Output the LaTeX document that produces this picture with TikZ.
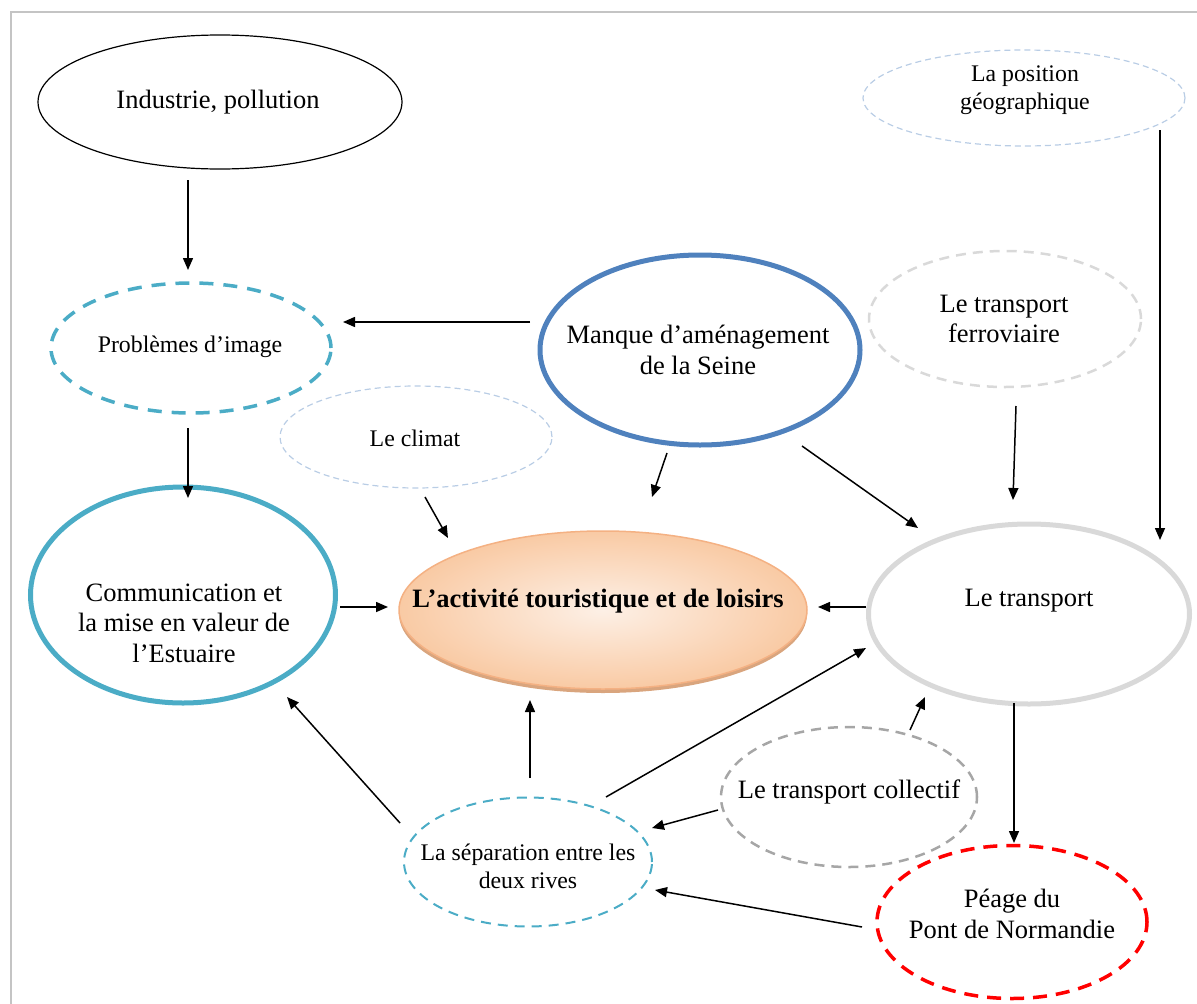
\documentclass[tikz,border=0pt]{standalone}
\usepackage{fontspec}
\setmainfont{Liberation Serif}
\usetikzlibrary{arrows.meta,calc,shapes.geometric,shadows}
\definecolor{framecol}{HTML}{C4C4C4}
\definecolor{teal}{HTML}{4BACC6}
\definecolor{sblue}{HTML}{4F81BD}
\definecolor{lgray}{HTML}{D9D9D9}
\definecolor{mgray}{HTML}{A6A6A6}
\definecolor{lblue}{HTML}{B9CDE5}
\definecolor{cborder}{HTML}{F4B183}
\definecolor{cinner}{HTML}{FDF0E6}
\definecolor{couter}{HTML}{F9CAA4}
\definecolor{cshadow}{HTML}{D9A57E}
\begin{document}
\begin{tikzpicture}[x=1pt,y=-1pt,
  ell/.style={ellipse, draw, inner sep=0pt},
  txt/.style={align=center, inner sep=0pt, font=\fontsize{26.5}{30.5}\selectfont},
  stxt/.style={align=center, inner sep=0pt, font=\fontsize{23.8}{27.8}\selectfont},
  arr/.style={-{Triangle[length=12pt,width=10pt]}, line width=1.5pt, black},
  thindash/.style={lblue, line width=1.2pt, dash pattern=on 6pt off 4pt}]
\useasboundingbox (0,0) rectangle (1197,1004);
\draw[framecol, line width=2pt] (11,1004) -- (11,12) -- (1197,12);

% ellipses
\node[ell, line width=1.2pt, minimum width=364pt, minimum height=134pt] (ind) at (220,102) {};
\node[ell, thindash, minimum width=322pt, minimum height=96pt] (pos) at (1024,98) {};
\node[ell, teal, line width=3.5pt, dash pattern=on 14pt off 10pt, minimum width=280pt, minimum height=130pt] (prob) at (191,348) {};
\node[ell, sblue, line width=5pt, minimum width=320pt, minimum height=190pt] (manq) at (700,350) {};
\node[ell, lgray, line width=2.5pt, dash pattern=on 10pt off 7pt, minimum width=272pt, minimum height=136pt] (ferr) at (1005,319) {};
\node[ell, thindash, minimum width=272pt, minimum height=102pt] (clim) at (416,437) {};
\node[ell, teal, line width=5pt, minimum width=305pt, minimum height=216pt] (comm) at (183,595) {};
\node[ell, cborder, line width=1.5pt, shading=radial, inner color=cinner, outer color=couter,
      drop shadow={shadow xshift=0pt, shadow yshift=-4pt, fill=cshadow, opacity=1},
      minimum width=408pt, minimum height=158pt] (cent) at (603,610) {};
\node[ell, lgray, line width=5pt, minimum width=321pt, minimum height=180pt] (trans) at (1029,614) {};
\node[ell, mgray, line width=2.5pt, dash pattern=on 10pt off 7pt, minimum width=256pt, minimum height=140pt] (coll) at (849,797) {};
\node[ell, teal, line width=2pt, dash pattern=on 10pt off 7pt, minimum width=248pt, minimum height=129pt] (sep) at (528,862) {};
\node[ell, red, line width=3.5pt, dash pattern=on 14pt off 9pt, minimum width=270pt, minimum height=153pt] (peage) at (1012,922) {};

% texts
\node[txt] (indt) at (218,102) {Industrie, pollution};
\node[stxt] (post) at (1025,90) {La position\\géographique};
\node[stxt] (probt) at (190,347) {Problèmes d’image};
\node[txt] (manqt) at (698,350) {Manque d’aménagement\\de la Seine};
\node[txt] (ferrt) at (1004,319) {Le transport\\ferroviaire};
\node[stxt] (climt) at (415,438) {Le climat};
\node[txt] (commt) at (184,623) {Communication et\\la mise en valeur de\\l’Estuaire};
\node[txt, font=\fontsize{26.5}{30.5}\selectfont\bfseries] (centt) at (598,601) {L’activité touristique et de loisirs};
\node[txt] (transt) at (1029,601) {Le transport};
\node[txt] (collt) at (849,792) {Le transport collectif};
\node[stxt] (sept) at (528,866) {La séparation entre les\\deux rives};
\node[txt] (peaget) at (1012,914) {Péage du\\Pont de Normandie};

% arrows
\draw[arr] ($(ind)+(-32,78)$) -- ($(prob)+(-3,-78)$);
\draw[arr] ($(manq)+(-170,-28)$) -- ($(prob)+(152,-26)$);
\draw[arr] ($(prob)+(-3,80)$) -- ($(comm)+(5,-97)$);
\draw[arr] ($(clim)+(9,60)$) -- ($(cent)+(-155,-72)$);
\draw[arr] ($(manq)+(-33,103)$) -- ($(cent)+(49,-113)$);
\draw[arr] ($(manq)+(102,96)$) -- ($(trans)+(-111,-86)$);
\draw[arr] ($(ferr)+(11,87)$) -- ($(trans)+(-16,-114)$);
\draw[arr] ($(pos)+(136,32)$) -- ($(trans)+(131,-74)$);
\draw[arr] ($(comm)+(157,12)$) -- ($(cent)+(-215,-3)$);
\draw[arr] ($(trans)+(-163,-7)$) -- ($(cent)+(215,-3)$);
\draw[arr] ($(trans)+(-15,89)$) -- ($(peage)+(2,-79)$);
\draw[arr] ($(sep)+(2,-84)$) -- ($(cent)+(-73,90)$);
\draw[arr] ($(sep)+(-128,-39)$) -- ($(comm)+(104,102)$);
\draw[arr] ($(sep)+(78,-65)$) -- ($(trans)+(-163,34)$);
\draw[arr] ($(coll)+(61,-67)$) -- ($(trans)+(-104,83)$);
\draw[arr] ($(coll)+(-131,13)$) -- ($(sep)+(124,-34)$);
\draw[arr] ($(peage)+(-150,5)$) -- ($(sep)+(127,28)$);
\end{tikzpicture}
\end{document}
